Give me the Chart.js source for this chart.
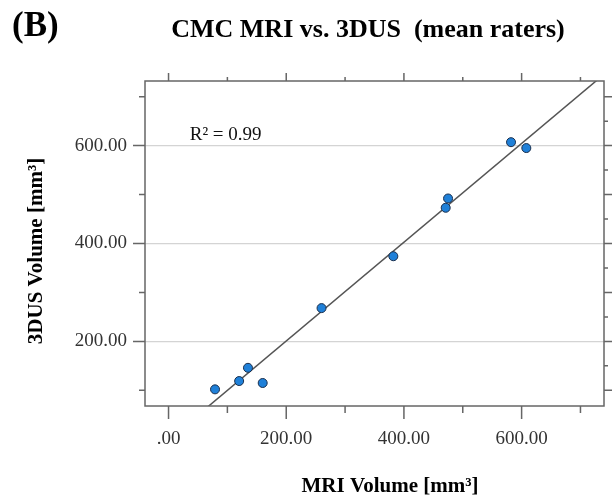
<!DOCTYPE html>
<html>
<head>
<meta charset="utf-8">
<script src="https://cdn.jsdelivr.net/npm/chart.js@4.4.1/dist/chart.umd.min.js"></script>
<style>
  html, body { margin: 0; padding: 0; background: #fff; }
  #wrap { width: 614px; height: 500px; }
</style>
</head>
<body>
<div id="wrap"><canvas id="scatter-chart"></canvas></div>
<script>
// values
const mriVolume = [79, 120, 135, 160, 260, 382, 471, 475, 582, 608];
const usVolume = [102, 119, 146, 115, 268, 374, 473, 492, 607, 595];

// regression line y = slope * x + intercept
const fitSlope = 1.009;
const fitIntercept = -1;
const rSquared = "0.99";

const xMin = -40, xMax = 740;
const yMin = 68, yMax = 732;
const xLabelTicks = [0, 200, 400, 600];
const yLabelTicks = [200, 400, 600];

const points = mriVolume.map((x, i) => ({ x: x, y: usVolume[i] }));
const fitLine = [xMin, xMax].map((x) => ({ x: x, y: fitSlope * x + fitIntercept }));

function fmtTick(v) {
  return v === 0 ? ".00" : v.toFixed(2);
}

const frame = {
  id: "frame",
  afterDraw(chart) {
    const { ctx, chartArea: a, scales } = chart;
    const xs = scales.x, ys = scales.y;
    ctx.save();
    ctx.strokeStyle = "#666";
    ctx.lineWidth = 1.5;
    ctx.strokeRect(a.left, a.top, a.right - a.left, a.bottom - a.top);

    ctx.beginPath();
    // bottom and top ticks
    for (let v = 0; v <= 700; v += 100) {
      const px = xs.getPixelForValue(v);
      const major = v % 200 === 0;
      ctx.moveTo(px, a.bottom);
      ctx.lineTo(px, a.bottom + (major ? 13 : 7));
      ctx.moveTo(px, a.top);
      ctx.lineTo(px, a.top - (major ? 8 : 4));
    }
    // left ticks
    for (let v = 100; v <= 700; v += 100) {
      const py = ys.getPixelForValue(v);
      ctx.moveTo(a.left, py);
      ctx.lineTo(a.left - (v % 200 === 0 ? 12 : 6), py);
    }
    // right ticks
    for (let v = 100; v <= 700; v += 50) {
      const py = ys.getPixelForValue(v);
      ctx.moveTo(a.right, py);
      ctx.lineTo(a.right + (v % 100 === 0 ? 8 : 4), py);
    }
    ctx.stroke();

    // R² label
    ctx.fillStyle = "#111";
    ctx.font = "19px 'Liberation Serif'";
    ctx.textAlign = "left";
    ctx.textBaseline = "middle";
    ctx.fillText("R\u00b2 = " + rSquared, xs.getPixelForValue(36), ys.getPixelForValue(622));

    // titles
    ctx.fillStyle = "#000";
    ctx.textBaseline = "alphabetic";
    ctx.font = "bold 35px 'Liberation Serif'";
    ctx.fillText("(B)", 12, 36);
    ctx.textAlign = "center";
    ctx.font = "bold 26px 'Liberation Serif'";
    ctx.fillText("CMC MRI vs. 3DUS  (mean raters)", 368, 37);

    ctx.font = "bold 21px 'Liberation Serif'";
    ctx.fillText("MRI Volume [mm\u00b3]", 390, 492);
    ctx.translate(42, 251);
    ctx.rotate(-Math.PI / 2);
    ctx.fillText("3DUS Volume [mm\u00b3]", 0, 0);
    ctx.restore();
  },
};

const config = {
  type: "scatter",
  data: {
    datasets: [
      {
        label: "Mean raters",
        data: points,
        backgroundColor: "#1f80d8",
        borderColor: "#1a2f4d",
        borderWidth: 1,
        pointRadius: 4.5,
        order: 1,
      },
      {
        type: "line",
        label: "Fit",
        data: fitLine,
        borderColor: "#555",
        borderWidth: 1.5,
        pointRadius: 0,
        fill: false,
        order: 2,
      },
    ],
  },
  options: {
    responsive: true,
    maintainAspectRatio: false,
    animation: false,
    layout: { padding: { top: 81, right: 10, left: 0, bottom: 0 } },
    plugins: {
      legend: { display: false },
      tooltip: { enabled: false },
    },
    scales: {
      x: {
        type: "linear",
        min: xMin,
        max: xMax,
        afterBuildTicks: (s) => { s.ticks = xLabelTicks.map((v) => ({ value: v })); },
        afterFit: (s) => { s.height = 94; },
        grid: { drawOnChartArea: false, drawTicks: false },
        border: { display: false },
        ticks: {
          padding: 22,
          color: "#333",
          font: { family: "'Liberation Serif'", size: 19 },
          callback: (v) => fmtTick(v),
        },
      },
      y: {
        type: "linear",
        min: yMin,
        max: yMax,
        afterBuildTicks: (s) => { s.ticks = yLabelTicks.map((v) => ({ value: v })); },
        afterFit: (s) => { s.width = 145; },
        grid: { color: "#d4d4d4", lineWidth: 1.2, drawTicks: false },
        border: { display: false },
        ticks: {
          padding: 18,
          color: "#333",
          font: { family: "'Liberation Serif'", size: 19 },
          callback: (v) => fmtTick(v),
        },
      },
    },
  },
  plugins: [frame],
};

const ctx = document.getElementById("scatter-chart").getContext("2d");
const scatterChart = new Chart(ctx, config);
</script>
</body>
</html>
